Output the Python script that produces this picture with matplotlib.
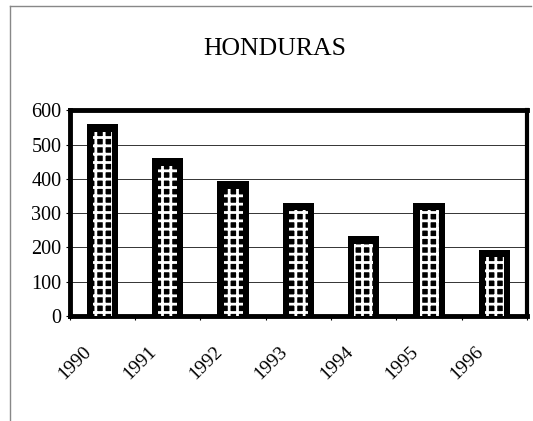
import matplotlib
matplotlib.use("Agg")
import matplotlib.pyplot as plt
import numpy as np
from matplotlib.lines import Line2D

years = ["1990", "1991", "1992", "1993", "1994", "1995", "1996"]
values = [560, 460, 393, 330, 233, 330, 193]
yticks = [0, 100, 200, 300, 400, 500, 600]

plt.rcParams["font.family"] = ["Liberation Serif", "DejaVu Serif"]
plt.rcParams["hatch.linewidth"] = 2.0

fig = plt.figure(figsize=(5.33, 4.21), dpi=100)
ax = fig.add_axes([0.131, 0.250, 0.858, 0.488])

x = np.arange(len(years))
vals = np.array(values, dtype=float)

# solid black bars with a white lattice inside
ax.bar(x, vals, width=0.48, color="black", zorder=2)
ax.bar(x, vals - 22, width=0.29, facecolor="none", edgecolor="white",
       hatch="++", linewidth=0, zorder=3)

ax.set_xlim(-0.5, len(years) - 0.5)
ax.set_ylim(0, 600)
ax.set_yticks(yticks)
ax.set_yticklabels([str(v) for v in yticks], fontsize=14.5)
ax.yaxis.grid(True, color="#333333", linewidth=0.7, zorder=1)
ax.set_axisbelow(True)

# category ticks on the boundaries, labels centred under each bar
ax.set_xticks(np.arange(-0.5, len(years), 1.0))
ax.set_xticklabels([])
ax.tick_params(axis="x", direction="out", length=3, width=0.8, pad=2)
ax.tick_params(axis="y", direction="out", length=3, width=0.8, pad=3)
for xi, lab in zip(x, years):
    ax.text(xi - 0.30, -80, lab, rotation=45, ha="right", va="top",
            fontsize=14, transform=ax.transData, rotation_mode="anchor")

for side, lw in [("top", 3.5), ("left", 3.5), ("bottom", 3.5), ("right", 3.0)]:
    ax.spines[side].set_linewidth(lw)
    ax.spines[side].set_color("black")

fig.text(0.516, 0.883, "HONDURAS", ha="center", va="center", fontsize=18.5)

# outer frame lines
fig.add_artist(Line2D([10 / 533, 531 / 533], [1 - 6 / 421, 1 - 6 / 421],
                      color="#888888", linewidth=1.0, transform=fig.transFigure))
fig.add_artist(Line2D([10 / 533, 10 / 533], [1 - 6 / 421, 0],
                      color="#888888", linewidth=1.0, transform=fig.transFigure))

fig.savefig("out.png", dpi=100)
